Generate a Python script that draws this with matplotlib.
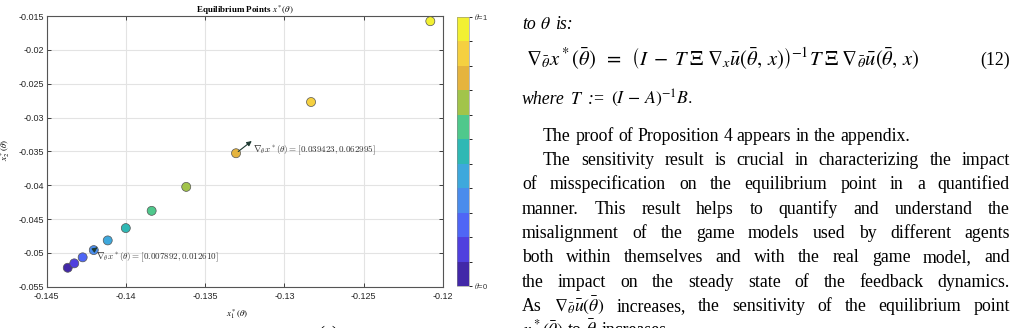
import numpy as np
import matplotlib
matplotlib.use("Agg")
import matplotlib.pyplot as plt
from matplotlib.colors import ListedColormap, BoundaryNorm
from matplotlib.transforms import IdentityTransform

# equilibrium points x*(theta) for theta = 0 ... 1
theta = [0.0, 0.1, 0.2, 0.3, 0.4, 0.5, 0.6, 0.7, 0.8, 0.9, 1.0]
x1 = [-0.14366, -0.14325, -0.14272, -0.14202, -0.14114, -0.14000,
      -0.13837, -0.13619, -0.13305, -0.12832, -0.12080]
x2 = [-0.05220, -0.05155, -0.05066, -0.04959, -0.04816, -0.04634,
      -0.04379, -0.04025, -0.03528, -0.02771, -0.01577]
level_colors = ['#4228a8', '#5040de', '#4f66f5', '#4a8cec', '#3ea8dc', '#2fb8b4',
                '#4fc88c', '#a2c44a', '#e5b43e', '#f5d040', '#f2f032']
xticks = [-0.145, -0.14, -0.135, -0.13, -0.125, -0.12]
xtick_labels = ['-0.145', '-0.14', '-0.135', '-0.13', '-0.125', '-0.12']
yticks = [-0.055, -0.05, -0.045, -0.04, -0.035, -0.03, -0.025, -0.02, -0.015]
ytick_labels = ['-0.055', '-0.05', '-0.045', '-0.04', '-0.035', '-0.03', '-0.025', '-0.02', '-0.015']
grad_labels = [r'$\nabla_\theta x^*(\theta) = [0.007892, 0.012610]$',
               r'$\nabla_\theta x^*(\theta) = [0.039423, 0.062995]$']

plt.rcParams['font.family'] = ['Liberation Sans', 'DejaVu Sans']
plt.rcParams['mathtext.fontset'] = 'stix'

fig = plt.figure(figsize=(10.16, 3.28), dpi=100)
W, H = 1016, 328

ax = fig.add_axes([46.5 / W, (H - 286.7) / H, (443 - 46.5) / W, (286.7 - 16) / H])
cmap = ListedColormap(level_colors)
norm = BoundaryNorm(np.linspace(-0.05, 1.05, 12), cmap.N)

ax.grid(True, color='#e3e3e3', lw=0.8, zorder=0)
ax.scatter(x1, x2, c=theta, cmap=cmap, norm=norm, s=42, edgecolors='#555555',
           linewidths=0.5, zorder=3)

# gradient arrows
ax.annotate('', xy=(-0.14165, -0.04895), xytext=(x1[3], x2[3]),
            arrowprops=dict(arrowstyle='-|>', color='#1e3a32', lw=0.8,
                            mutation_scale=7), zorder=4)
ax.annotate('', xy=(-0.13192, -0.03322), xytext=(x1[8], x2[8]),
            arrowprops=dict(arrowstyle='-|>', color='#1e3a32', lw=0.8,
                            mutation_scale=7), zorder=4)
ax.text(-0.14190, -0.0506, grad_labels[0], fontsize=6.5, color='#333333',
        math_fontfamily='cm', va='center', ha='left', zorder=5)
ax.text(-0.13200, -0.0348, grad_labels[1], fontsize=6.5, color='#333333',
        math_fontfamily='cm', va='center', ha='left', zorder=5)

ax.set_xlim(-0.145, -0.12)
ax.set_ylim(-0.055, -0.015)
ax.set_xticks(xticks)
ax.set_xticklabels(xtick_labels)
ax.set_yticks(yticks)
ax.set_yticklabels(ytick_labels)
ax.tick_params(direction='in', length=3, width=0.6, labelsize=6.5,
               colors='#262626', top=True, right=True, pad=2)
ax.tick_params(axis='x', pad=4)
for s in ax.spines.values():
    s.set_color('#555555')
    s.set_linewidth(0.8)
ax.set_title(r'Equilibrium Points $x^*(\theta)$', fontsize=6.5, fontweight='bold',
             family='Liberation Serif', pad=2)
ax.set_xlabel(r'$x_1^*(\theta)$', fontsize=6.5)
ax.set_ylabel(r'$x_2^*(\theta)$', fontsize=6.5)
ax.xaxis.set_label_coords(0.48, -0.075)
ax.yaxis.set_label_coords(-0.087, 0.505)

cax = fig.add_axes([457 / W, (H - 286) / H, 12 / W, (286 - 16.7) / H])
cb = fig.colorbar(plt.cm.ScalarMappable(norm=norm, cmap=cmap), cax=cax)
cb.set_ticks([])
cb.outline.set_linewidth(0.4)
cb.outline.set_edgecolor('#888888')
cax.text(1.4, 1.0, r'$\theta$=1', transform=cax.transAxes, fontsize=5.5,
         va='center', ha='left', color='#333333')
cax.text(1.4, 0.0, r'$\theta$=0', transform=cax.transAxes, fontsize=5.5,
         va='center', ha='left', color='#333333')

fig.text(318 / W, (H - 339) / H, '(a)', family='Liberation Serif', fontsize=13)

# paper text on the right
renderer = fig.canvas.get_renderer()
serif = dict(family='Liberation Serif', fontsize=12.8, color='black')


def put_line(words, x0, x1, base, justify=True, gap0=4.5, **kw):
    ts = [fig.text(0, H - base, w, transform=IdentityTransform(), va='baseline',
                   **serif, **kw) for w in words]
    widths = [t.get_window_extent(renderer).width for t in ts]
    if justify and len(ts) > 1:
        gap = (x1 - x0 - sum(widths)) / (len(ts) - 1)
    else:
        gap = gap0
    x = x0
    for t, wd in zip(ts, widths):
        t.set_x(x)
        x += wd + gap


L, R = 522, 1010
put_line([r'to', r'$\theta$', 'is:'], L, R, 29, justify=False, fontstyle='italic')
fig.text(526, H - 65,
         r'$\nabla_{\bar\theta} x^*(\bar\theta)\;\; =\;\; \left(I \;-\; T\;\Xi\;\nabla_x \bar u(\bar\theta,\, x)\right)^{-1} T\;\Xi\;\nabla_{\bar\theta} \bar u(\bar\theta,\, x)$',
         transform=IdentityTransform(), va='baseline', family='Liberation Serif',
         fontsize=14.8)
fig.text(R, H - 65, '(12)', transform=IdentityTransform(), va='baseline', ha='right', **serif)
put_line(['where', r'$T$', ':=', r'$(I \,-\, A)^{-1}B.$'], L, R, 104, justify=False,
         gap0=5, fontstyle='italic')
put_line('The proof of Proposition 4 appears in the appendix.'.split(), 543, R, 141, justify=False)

body = [
    ('The sensitivity result is crucial in characterizing the impact', 543, True),
    ('of misspecification on the equilibrium point in a quantified', L, True),
    ('manner. This result helps to quantify and understand the', L, True),
    ('misalignment of the game models used by different agents', L, True),
    ('both within themselves and with the real game model, and', L, True),
    ('the impact on the steady state of the feedback dynamics.', L, True),
    (r'As $\nabla_{\bar\theta}\bar u(\bar\theta)$ increases, the sensitivity of the equilibrium point', L, True),
    (r'$x^*(\bar\theta)$ to $\bar\theta$ increases.', L, False),
]
base = 165
for line, x0, just in body:
    words = line.split(' ')
    merged = []
    buf = ''
    for w in words:
        if buf:
            buf += ' ' + w
            if w.count('$') % 2 == 1:
                merged.append(buf)
                buf = ''
        elif w.count('$') == 1:
            buf = w
        else:
            merged.append(w)
    put_line(merged, x0, R, base, justify=just)
    base += 24.3

fig.savefig('out.png', dpi=100)
